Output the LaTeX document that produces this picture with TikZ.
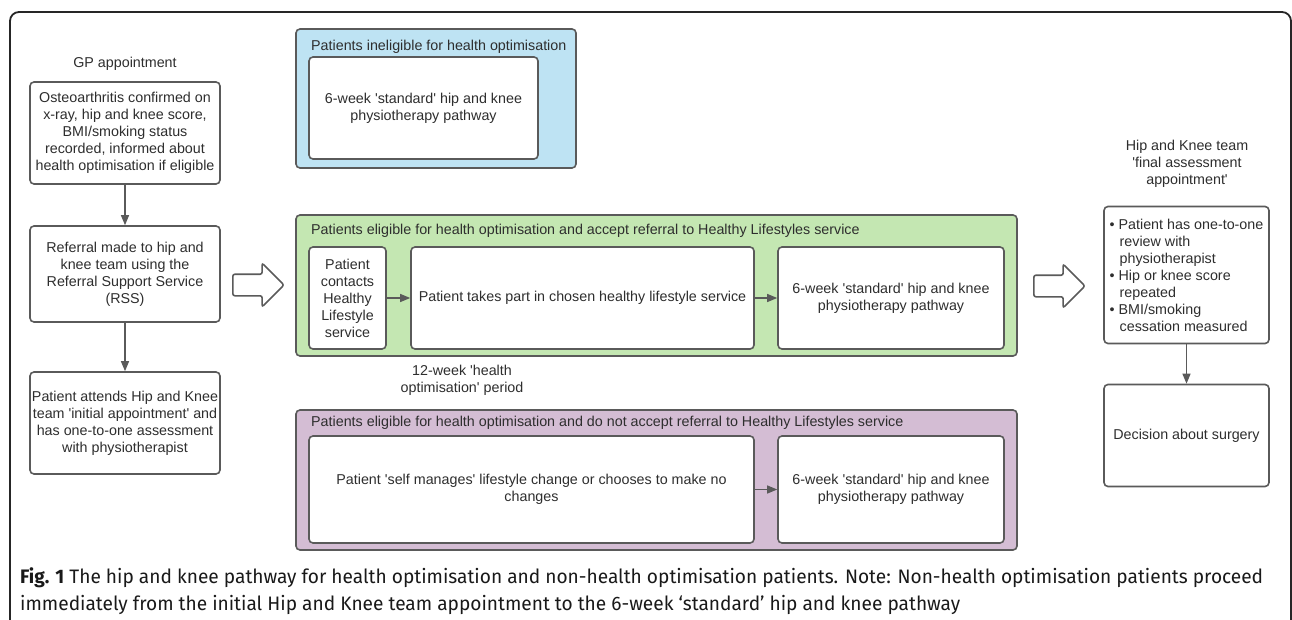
\documentclass[tikz,border=0pt]{standalone}
\usepackage{fontspec}
\setmainfont{Liberation Sans}
\newfontfamily\capfont[FakeStretch=0.98]{Fira Sans}
\usetikzlibrary{shapes.arrows,arrows.meta,positioning}
\definecolor{linec}{HTML}{5A5A5A}
\definecolor{txtc}{HTML}{2E2E2E}
\definecolor{bluec}{HTML}{BEE3F3}
\definecolor{greenc}{HTML}{C4E7B2}
\definecolor{purplec}{HTML}{D4BDD4}
\newcommand{\boxfont}{\fontsize{14.3}{17}\selectfont}
\newcommand{\ind}{\hspace*{10pt}}
\newcommand{\qs}{\textquotesingle}
\begin{document}
\begin{tikzpicture}[x=1pt, y=-1pt,
    box/.style = {draw=linec, line width=1.6pt, rounded corners=4pt, fill=white,
      align=center, font=\boxfont, text=txtc, inner sep=0pt},
    panel/.style = {draw=linec, line width=1.6pt, rounded corners=4pt, inner sep=0pt},
    title/.style = {anchor=west, font=\boxfont, text=txtc, inner sep=0pt},
    plain/.style = {align=center, font=\boxfont, text=txtc, inner sep=0pt},
    flow/.style = {draw=linec, line width=1.2pt, -{Triangle[length=10pt,width=8pt]}},
    bigarrow/.style = {single arrow, draw=linec, line width=1.6pt, fill=white,
      minimum height=51pt, inner xsep=0pt, inner ysep=10pt,
      single arrow head extend=11pt, rounded corners=2pt}]
  \clip (0,0) rectangle (1292,620);
  \fill[white] (0,0) rectangle (1292,620);
  % frame
  \draw[line width=1.8pt, rounded corners=9pt, color=black!85]
    (10,640) -- (10,12) -- (1291,12) -- (1291,640);

  % GP column
  \node[plain] (gplabel) at (125,64) {GP appointment};
  \node[box, minimum width=190pt, minimum height=102pt] (gp) at (125,133)
    {Osteoarthritis confirmed on\\x-ray, hip and knee score,\\BMI/smoking status\\recorded, informed about\\health optimisation if eligible};
  \node[box, minimum width=190pt, minimum height=96pt] (refer) at (125,274)
    {Referral made to hip and\\knee team using the\\Referral Support Service\\(RSS)};
  \node[box, minimum width=190pt, minimum height=102pt] (initial) at (125,423)
    {Patient attends Hip and Knee\\team \qs initial appointment\qs{} and\\has one-to-one assessment\\with physiotherapist};
  \draw[flow] (gp) -- (refer);
  \draw[flow] (refer) -- (initial);

  \node[bigarrow] (arrL) at (253,285) {};

  % ineligible
  \node[panel, fill=bluec, minimum width=280pt, minimum height=139pt] (inelig) at (436,98.5) {};
  \node[title] (ineligT) at (311,47) {Patients ineligible for health optimisation};
  \node[box, minimum width=229pt, minimum height=102pt] (physA) at (423.5,108)
    {6-week \qs standard\qs{} hip and knee\\physiotherapy pathway};

  % accept referral
  \node[panel, fill=greenc, minimum width=721pt, minimum height=141pt] (accept) at (656.5,285.5) {};
  \node[title] (acceptT) at (311,231) {Patients eligible for health optimisation and accept referral to Healthy Lifestyles service};
  \node[box, minimum width=77pt, minimum height=102pt] (contact) at (347.5,298)
    {Patient\\contacts\\Healthy\\Lifestyle\\service};
  \node[box, minimum width=343pt, minimum height=102pt] (takepart) at (582.5,298)
    {Patient takes part in chosen healthy lifestyle service};
  \node[box, minimum width=226pt, minimum height=102pt] (physB) at (891,298)
    {6-week \qs standard\qs{} hip and knee\\physiotherapy pathway};
  \draw[flow] (contact) -- (takepart);
  \draw[flow] (takepart) -- (physB);
  \node[plain] (period) at (462,380) {12-week \qs health\\optimisation\qs{} period};

  % decline referral
  \node[panel, fill=purplec, minimum width=721pt, minimum height=140pt] (decline) at (656.5,480) {};
  \node[title] (declineT) at (311,423) {Patients eligible for health optimisation and do not accept referral to Healthy Lifestyles service};
  \node[box, minimum width=445pt, minimum height=107pt] (selfman) at (531.5,489.5)
    {Patient \qs self manages\qs{} lifestyle change or chooses to make no\\changes};
  \node[box, minimum width=226pt, minimum height=107pt] (physC) at (891,489.5)
    {6-week \qs standard\qs{} hip and knee\\physiotherapy pathway};
  \draw[flow] (selfman) -- (physC);

  \node[bigarrow] (arrR) at (1054,286) {};

  % final assessment
  \node[plain] (finallabel) at (1187,164) {Hip and Knee team\\\qs final assessment\\appointment\qs};
  \node[box, minimum width=165pt, minimum height=137pt, align=left] (final) at (1186.5,275)
    {\textbullet\ Patient has one-to-one\\\ind review with\\\ind physiotherapist\\\textbullet\ Hip or knee score\\\ind repeated\\\textbullet\ BMI/smoking\\\ind cessation measured};
  \node[box, minimum width=165pt, minimum height=102pt] (decide) at (1186.5,435.5)
    {Decision about surgery};
  \draw[flow] (final) -- (decide);

  % caption
  \node[anchor=west, align=left, inner sep=0pt, text=black!90,
    font=\capfont\fontsize{19.5}{27}\selectfont] (caption) at (20,591)
    {\textbf{Fig. 1} The hip and knee pathway for health optimisation and non-health optimisation patients. Note: Non-health optimisation patients proceed\\immediately from the initial Hip and Knee team appointment to the 6-week ‘standard’ hip and knee pathway};
\end{tikzpicture}
\end{document}
